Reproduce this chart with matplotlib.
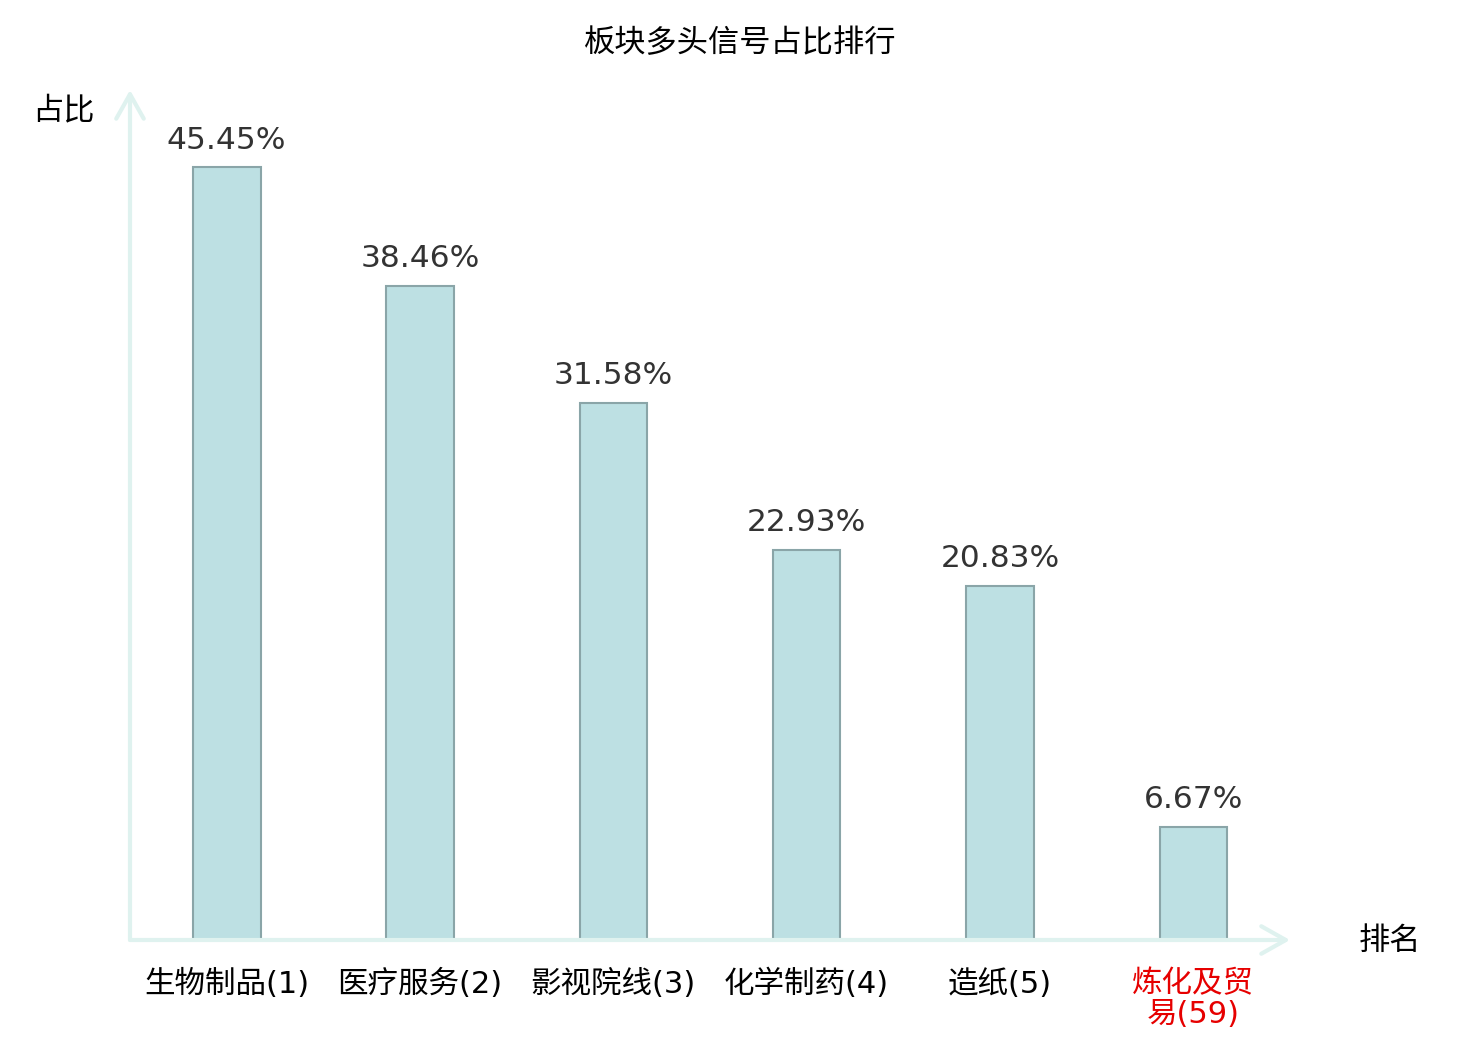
import matplotlib
matplotlib.use("Agg")
import matplotlib.pyplot as plt

plt.rcParams['font.family'] = ['DejaVu Sans', 'Noto Sans CJK SC']

# data
categories = ["生物制品(1)", "医疗服务(2)", "影视院线(3)", "化学制药(4)", "造纸(5)", "炼化及贸\n易(59)"]
values = [45.45, 38.46, 31.58, 22.93, 20.83, 6.67]
label_colors = ["black", "black", "black", "black", "black", "#e60000"]

W, H = 1480, 1040
fig = plt.figure(figsize=(W / 100, H / 100), dpi=100)
# axes box in pixels: left 130, right 1290, bottom 940, top 90
ax = fig.add_axes([130 / W, 1 - 940 / H, 1160 / W, 850 / H])

x = list(range(len(categories)))
ax.bar(x, values, width=0.35, color="#bde0e3", edgecolor="#8aa5a8", linewidth=1.5, zorder=2)
ax.set_xlim(-0.5, 5.5)
ax.set_ylim(0, 50)

for xi, v in zip(x, values):
    ax.text(xi, v + 0.75, f"{v:.2f}%", ha="center", va="bottom", fontsize=22.5,
            color="#333333")

for s in ax.spines.values():
    s.set_visible(False)
ax.set_xticks([])
ax.set_yticks([])

for xi, lab, c in zip(x, categories, label_colors):
    ax.text(xi, -1.7, lab, ha="center", va="top", fontsize=22, color=c,
            linespacing=1.08, clip_on=False)

# axis lines with open arrow heads
axis_col = "#dff2ef"
arrow = dict(arrowstyle="->,head_length=0.8,head_width=0.45", color=axis_col, lw=3,
             shrinkA=0, shrinkB=0, mutation_scale=22)
ax.annotate("", xy=(1.0, 0), xytext=(0, 0), xycoords="axes fraction", arrowprops=arrow)
ax.annotate("", xy=(0, 1.0), xytext=(0, 0), xycoords="axes fraction", arrowprops=arrow)

fig.text(63 / W, 1 - 111 / H, "占比", ha="center", va="center", fontsize=22.5)
fig.text(1390 / W, 1 - 941 / H, "排名", ha="center", va="center", fontsize=22.5)
fig.text(740 / W, 1 - 43 / H, "板块多头信号占比排行", ha="center", va="center", fontsize=22.5)

fig.savefig("out.png", dpi=100, facecolor="white")
